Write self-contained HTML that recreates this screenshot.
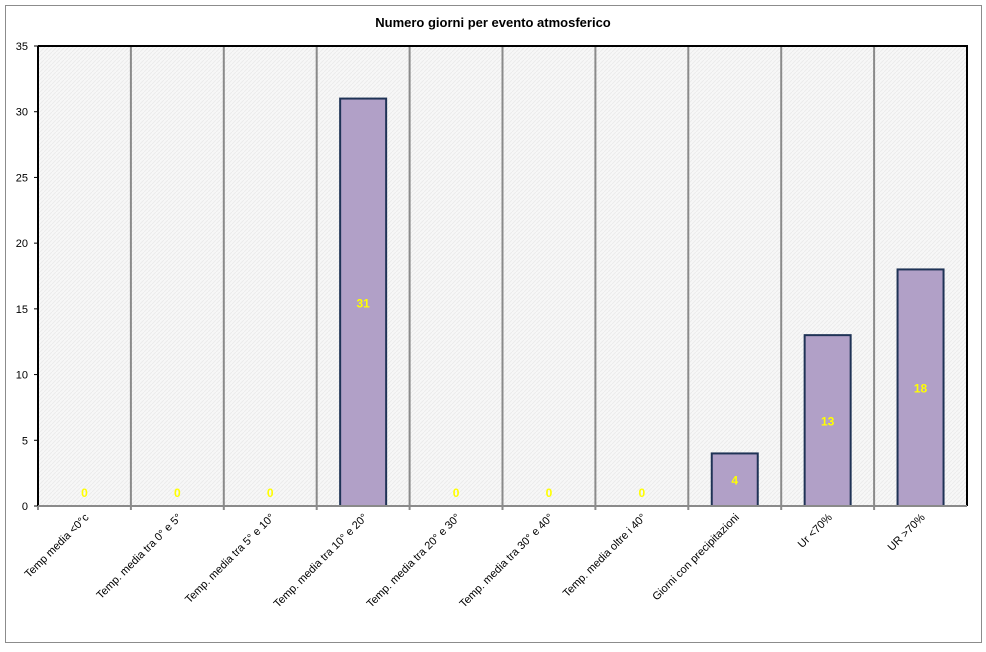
<!DOCTYPE html>
<html><head><meta charset="utf-8"><style>
body{margin:0;background:#fff;width:986px;height:647px;overflow:hidden}
svg{font-family:"Liberation Sans","DejaVu Sans",sans-serif}
</style></head><body>
<svg width="986" height="647">
<defs><pattern id="hatch" width="4" height="4" patternUnits="userSpaceOnUse"><rect width="4" height="4" fill="#f7f7f7"/><path d="M0 4L4 0" stroke="#ececec" stroke-width="1"/></pattern></defs>
<rect x="5.5" y="5.5" width="976" height="637" fill="#fff" stroke="#8c8c8c"/>
<text x="493" y="27" text-anchor="middle" font-size="13" font-weight="bold">Numero giorni per evento atmosferico</text>
<g id="plot"></g>
</svg>
<script>
const categories=["Temp media <0°c","Temp. media tra 0° e 5°","Temp. media tra 5° e 10°","Temp. media tra 10° e 20°","Temp. media tra 20° e 30°","Temp. media tra 30° e 40°","Temp. media oltre i 40°","Giorni con precipitazioni","Ur <70%","UR >70%"];
const values=[0,0,0,31,0,0,0,4,13,18];
const yTicks=[0,5,10,15,20,25,30,35];
const NS="http://www.w3.org/2000/svg";
const g=document.getElementById('plot');
const L=38,R=967,T=46,B=506,YMAX=35;
const bw=(R-L)/categories.length;
const y=v=>B-(v/YMAX)*(B-T);
const x=i=>L+bw*i;
function mk(t,a,p){const e=document.createElementNS(NS,t);for(const k in a)e.setAttribute(k,a[k]);(p||g).appendChild(e);return e;}
const bg=mk('rect',{x:L,y:T,width:R-L,height:B-T,fill:'url(#hatch)'});


for(let i=1;i<categories.length;i++){const l=mk('line',{x1:x(i),x2:x(i),y1:T,y2:B,stroke:'#8a8a8a','stroke-width':2});

}
yTicks.forEach(t=>{const tl=mk('line',{x1:L-4,x2:L,y1:y(t),y2:y(t),stroke:'#000'});


const tx=mk('text',{x:L-10,y:y(t)+4,'text-anchor':'end','font-size':11});tx.textContent=t;

});
values.forEach((v,i)=>{const cx=x(i)+bw/2;
if(v>0){const r=mk('rect',{x:cx-23,y:y(v),width:46,height:B-y(v),fill:'#b1a0c7',stroke:'#1f3356','stroke-width':2});

}
const lb=mk('text',{x:cx,y:v>0?(y(v)+B)/2+5:B-9,'text-anchor':'middle','font-size':12,'font-weight':'bold',fill:'#ffff00'});lb.textContent=v;


const tk=mk('line',{x1:x(i),x2:x(i),y1:B,y2:B+4,stroke:'#8a8a8a','stroke-width':2});


const xl=mk('text',{x:cx+5,y:B+12,'text-anchor':'end','font-size':11,transform:`rotate(-45 ${cx+5} ${B+12})`});xl.textContent=categories[i];

});
const ax=mk('path',{d:`M${L} ${T}H${R}V${B}`,fill:'none',stroke:'#000','stroke-width':2});


const ya=mk('line',{x1:L,x2:L,y1:T,y2:B,stroke:'#000','stroke-width':2});


const xa=mk('line',{x1:L,x2:R,y1:B,y2:B,stroke:'#8a8a8a','stroke-width':2});


</script>
</body></html>
